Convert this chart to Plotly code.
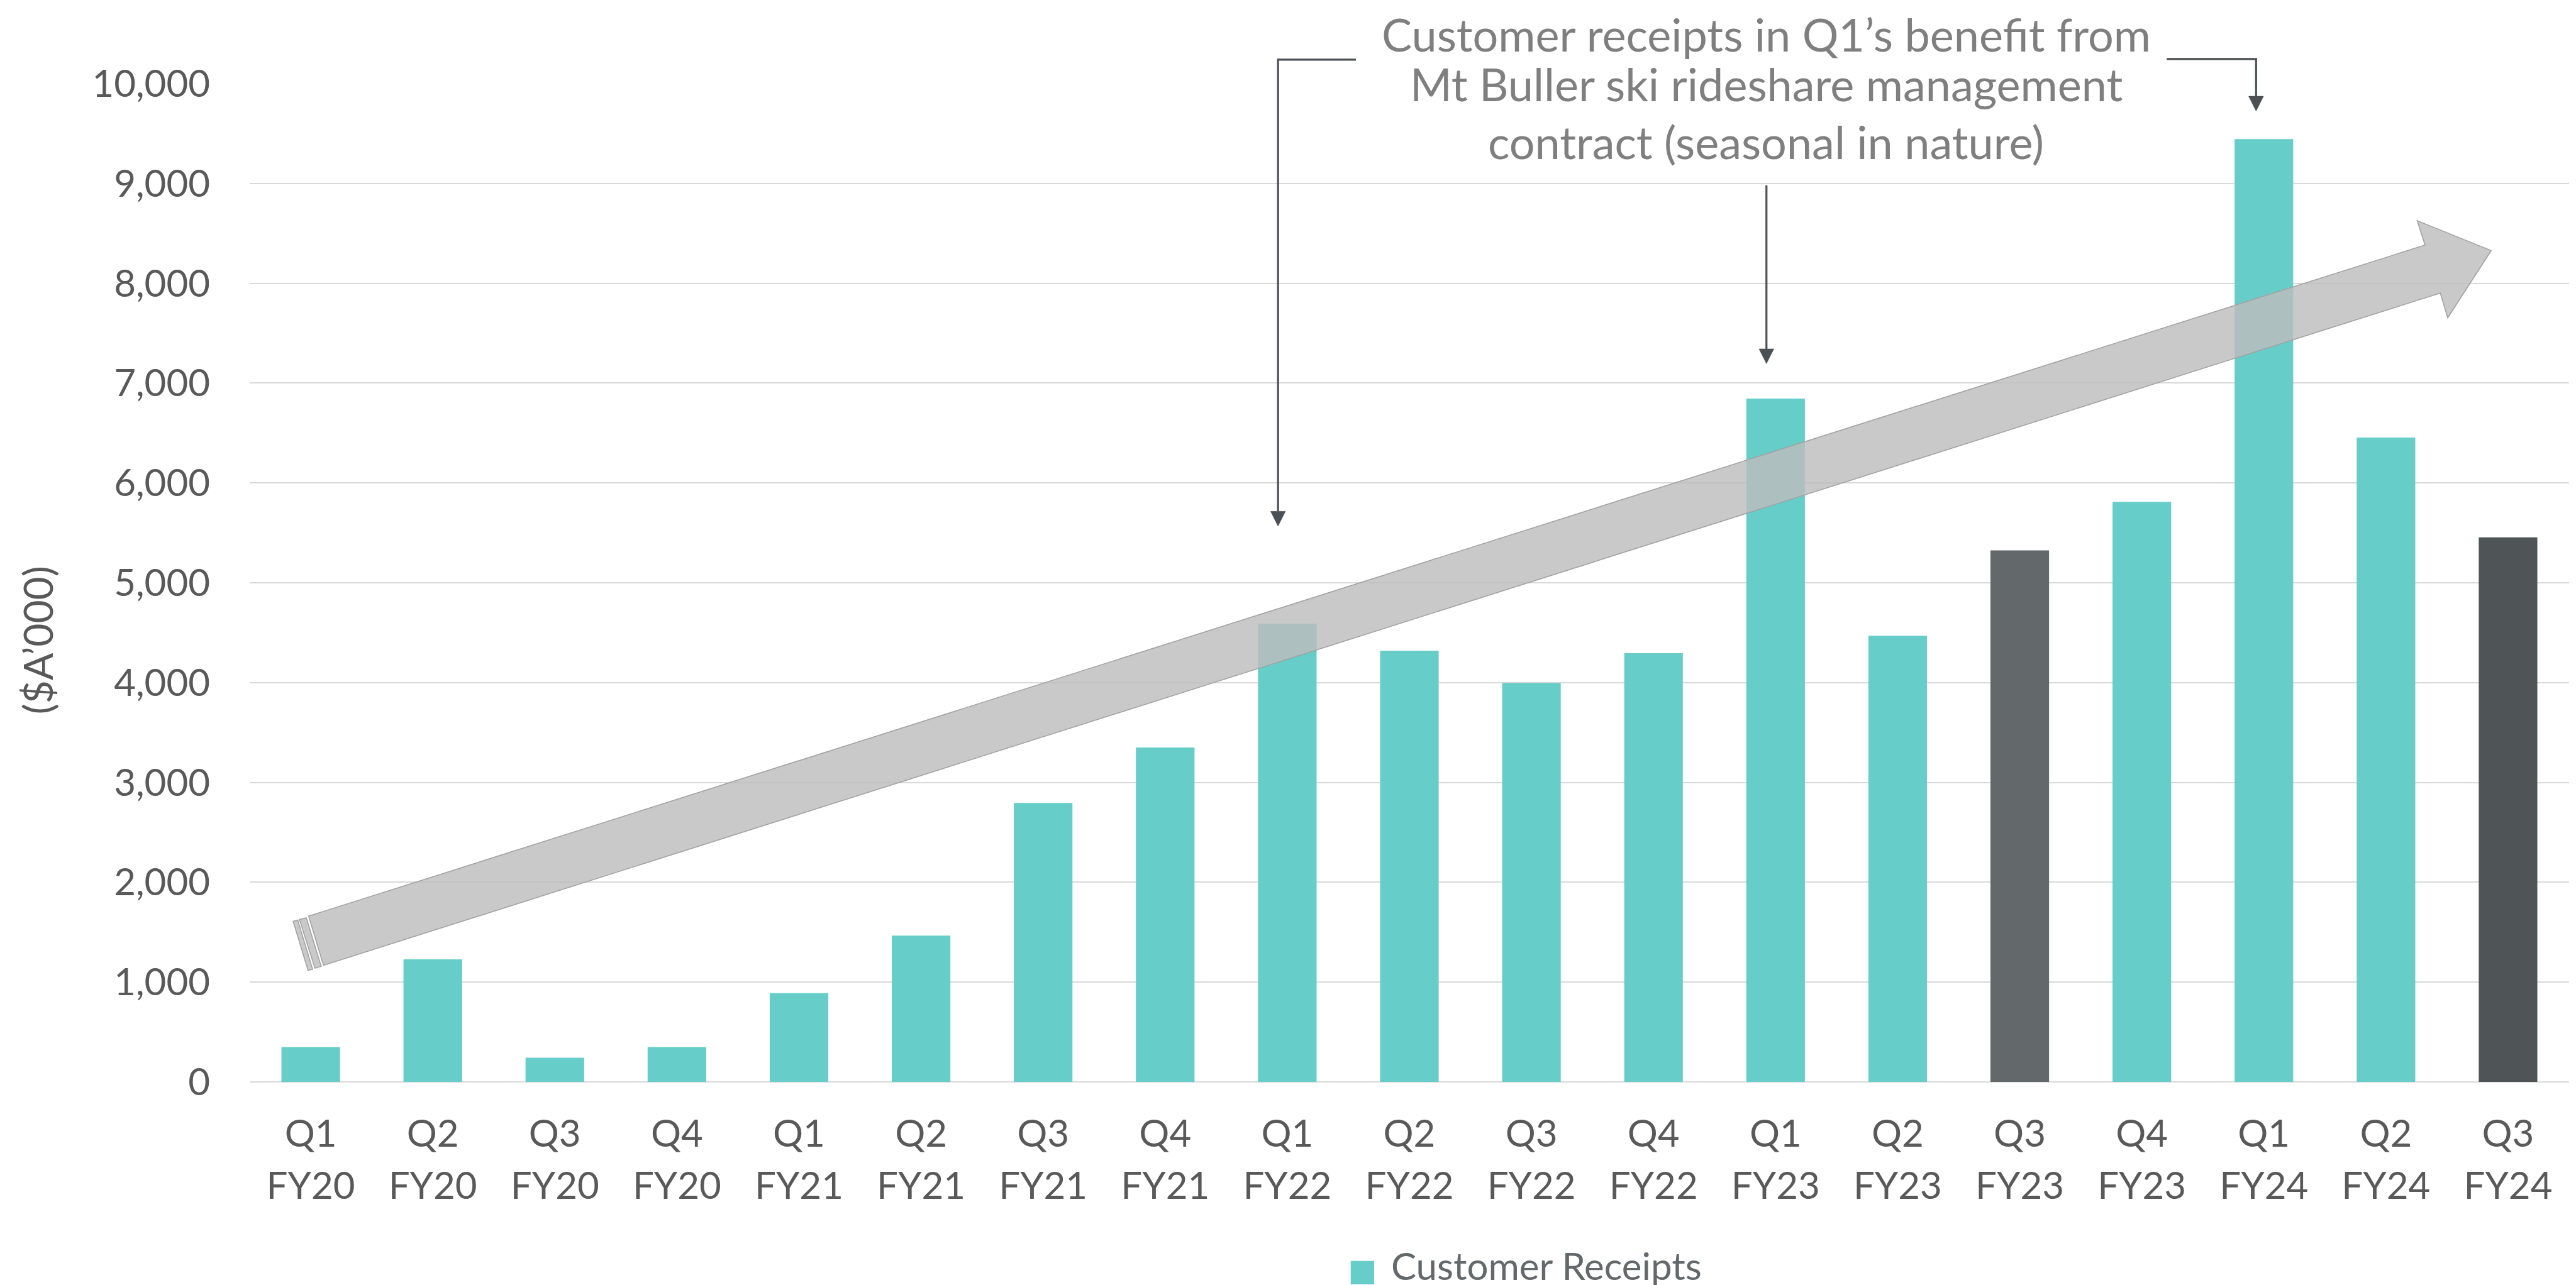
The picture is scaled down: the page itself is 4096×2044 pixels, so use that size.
import plotly.graph_objects as go

# ---------------- data ----------------
quarters = ["Q1", "Q2", "Q3", "Q4", "Q1", "Q2", "Q3", "Q4", "Q1", "Q2",
            "Q3", "Q4", "Q1", "Q2", "Q3", "Q4", "Q1", "Q2", "Q3"]
fiscal_years = ["FY20", "FY20", "FY20", "FY20", "FY21", "FY21", "FY21", "FY21",
                "FY22", "FY22", "FY22", "FY22", "FY23", "FY23", "FY23", "FY23",
                "FY24", "FY24", "FY24"]
receipts = [350, 1228, 243, 350, 890, 1465, 2795, 3350, 4590, 4320,
            3995, 4295, 6845, 4470, 5325, 5810, 9445, 6455, 5455]
y_ticks = [0, 1000, 2000, 3000, 4000, 5000, 6000, 7000, 8000, 9000, 10000]

TEAL = "#66CDC8"
bar_colors = [TEAL] * len(receipts)
bar_colors[14] = "#63686B"
bar_colors[18] = "#4F5457"

note_lines = ["Customer receipts in Q1\u2019s benefit from",
              "Mt Buller ski rideshare management",
              "contract (seasonal in nature)"]
legend_label = "Customer Receipts"
y_title = "($A\u2019000)"

# ---------------- geometry helpers ----------------
W, H = 4096, 2044
REF_W, REF_H = 4502, 2247
S = W / REF_W
PL, PR, PT, PB = 428, 4481, 137, 1883          # plot area in reference pixels
XMIN, XMAX = -0.5, len(receipts) - 0.5
YMIN, YMAX = 0, 10000


def rp(X, Y):
    """reference pixel -> paper"""
    return (X - PL) / (PR - PL), (PB - Y) / (PB - PT)


def d2p(x, y):
    """data -> paper"""
    return (x - XMIN) / (XMAX - XMIN), (y - YMIN) / (YMAX - YMIN)


FONT = "Lato, 'Open Sans', sans-serif"
TICK_COL = "#595959"
TICK_SIZE = 60

fig = go.Figure()
x_idx = list(range(len(receipts)))
fig.add_trace(go.Bar(x=x_idx, y=receipts, marker_color=bar_colors,
                     marker_line_width=0, width=0.48, showlegend=False,
                     name=legend_label))
# carrier for the second row of category labels (fiscal years)
fig.add_trace(go.Scatter(x=x_idx, y=receipts, xaxis="x2", mode="markers",
                         marker=dict(opacity=0, size=1), hoverinfo="skip",
                         showlegend=False))

shapes = []
annotations = []

# ---- big grey trend arrow (data coords) ----
arrow_body = [(-0.0172, 1661), (17.320, 8383), (17.256, 8627), (17.862, 8328),
              (17.506, 7654), (17.445, 7902), (0.1047, 1168)]
strip_a = [(-0.0922, 1627), (-0.0359, 1644), (0.086, 1157), (0.0344, 1140)]
strip_b = [(-0.1437, 1609), (-0.1062, 1621), (0.0157, 1128), (-0.0218, 1117)]


def poly_path(pts):
    return "M " + " L ".join(f"{x},{y}" for x, y in pts) + " Z"


for pts in (strip_b, strip_a, arrow_body):
    shapes.append(dict(type="path", xref="x", yref="y", path=poly_path(pts),
                       fillcolor="rgba(189,189,189,0.82)",
                       line=dict(color="#A3A3A3", width=1.6), layer="above"))

# ---- connector arrows (paper coords) ----
LINE_COL = "#4B5054"
HW = 0.061  # arrow head half width in category units


def ppath(pts, close=False):
    s = "M " + " L ".join("{},{}".format(*d2p(x, y)) for x, y in pts)
    return s + (" Z" if close else "")


connectors = [
    ([(8.562, 10240), (7.924, 10240), (7.924, 5716)], 7.924, 5716, 5567),
    ([(15.204, 10246), (15.936, 10246), (15.936, 9874)], 15.936, 9874, 9725),
    ([(11.925, 8981), (11.925, 7343)], 11.925, 7343, 7194),
]
for pts, xh, ytop, ytip in connectors:
    shapes.append(dict(type="path", xref="paper", yref="paper", path=ppath(pts),
                       line=dict(color=LINE_COL, width=3.2), layer="above"))
    shapes.append(dict(type="path", xref="paper", yref="paper",
                       path=ppath([(xh - HW, ytop), (xh + HW, ytop), (xh, ytip)], True),
                       fillcolor=LINE_COL, line=dict(color=LINE_COL, width=0.5),
                       layer="above"))

# ---- note text ----
note_pos = [(1, "top"), (137, "middle"), (238, "middle")]
for txt, (yc, anchor) in zip(note_lines, note_pos):
    px, py = rp(3078, yc)
    annotations.append(dict(text=txt, xref="paper", yref="paper", x=px, y=py,
                            xanchor="center", yanchor=anchor, showarrow=False,
                            font=dict(family=FONT, size=72, color="#7F7F7F")))

# ---- y title ----
px, py = rp(58, 1110)
annotations.append(dict(text=y_title, xref="paper", yref="paper", x=px, y=py,
                        xanchor="center", yanchor="middle", showarrow=False,
                        textangle=-90,
                        font=dict(family=FONT, size=64, color=TICK_COL)))

# ---- custom legend ----
x0, y0 = rp(2352, 2196)
x1, y1 = rp(2393, 2237)
shapes.append(dict(type="rect", xref="paper", yref="paper", x0=x0, y0=y0,
                   x1=x1, y1=y1, fillcolor=TEAL, line=dict(width=0)))
px, py = rp(2420, REF_H - 1)
annotations.append(dict(text=legend_label, xref="paper", yref="paper", x=px, y=py,
                        xanchor="left", yanchor="bottom", showarrow=False,
                        font=dict(family=FONT, size=60, color="#63686B")))

fig.update_layout(
    width=W, height=H, autosize=False,
    margin=dict(l=PL * S, r=(REF_W - PR) * S, t=PT * S, b=(REF_H - PB) * S, pad=0),
    paper_bgcolor="white", plot_bgcolor="white",
    bargap=0.52, showlegend=False,
    shapes=shapes, annotations=annotations,
    xaxis=dict(range=[XMIN, XMAX], tickmode="array", tickvals=x_idx,
               ticktext=quarters, showgrid=False, zeroline=False, showline=False,
               ticks="", tickfont=dict(family=FONT, size=TICK_SIZE, color=TICK_COL),
               ticklabelstandoff=42, fixedrange=True),
    xaxis2=dict(range=[XMIN, XMAX], tickmode="array", tickvals=x_idx,
                ticktext=fiscal_years, overlaying="x", side="bottom", anchor="y",
                showgrid=False, zeroline=False, showline=False, ticks="",
                tickfont=dict(family=FONT, size=TICK_SIZE, color=TICK_COL),
                ticklabelstandoff=42 + 83, fixedrange=True),
    yaxis=dict(range=[YMIN, YMAX], tickmode="array", tickvals=y_ticks,
               tickformat=",", showgrid=True, gridcolor="#D9D9D9", gridwidth=2,
               zeroline=True, zerolinecolor="#D9D9D9", zerolinewidth=2.2,
               showline=False, ticks="",
               tickfont=dict(family=FONT, size=TICK_SIZE, color=TICK_COL),
               ticklabelstandoff=62, fixedrange=True),
)

fig.write_html("out.html")
